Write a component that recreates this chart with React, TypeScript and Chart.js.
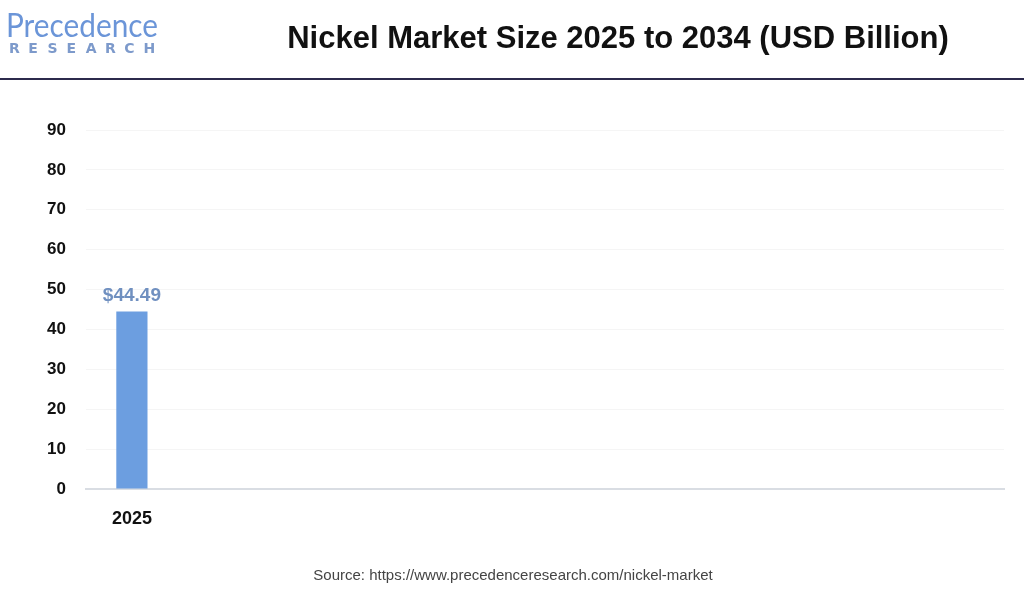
import React, { useEffect, useRef } from "react";
import { Chart, registerables } from "chart.js";

Chart.register(...registerables);

const title = "Nickel Market Size 2025 to 2034 (USD Billion)";
const sourceText = "Source: https://www.precedenceresearch.com/nickel-market";
const years = ["2025", "2026", "2027", "2028", "2029", "2030", "2031", "2032", "2033", "2034"];
const marketSize: (number | null)[] = [44.49, null, null, null, null, null, null, null, null, null];
const yMin = 0;
const yMax = 90;
const yStep = 10;

const decorPlugin = {
  id: "decor",
  afterDraw(chart: any) {
    const ctx = chart.ctx as CanvasRenderingContext2D;
    ctx.save();
    // logo
    ctx.fillStyle = "#6b95d8";
    ctx.font = "32px 'Lato', sans-serif";
    ctx.textAlign = "left";
    ctx.textBaseline = "alphabetic";
    ctx.fillText("Precedence", 6, 37, 152);
    ctx.fillStyle = "#7d9acb";
    ctx.font = "bold 14px 'DejaVu Sans', sans-serif";
    const letters = "RESEARCH".split("");
    letters.forEach((l, i) => {
      ctx.fillText(l, 9 + i * 19.2, 53);
    });
    // title
    ctx.fillStyle = "#111111";
    ctx.font = "bold 31px 'Liberation Sans Narrow', 'Liberation Sans', sans-serif";
    ctx.textAlign = "center";
    ctx.fillText(title, 618, 48, 670);
    // header rule
    ctx.fillStyle = "#2c2a4c";
    ctx.fillRect(0, 78, 1024, 2);
    // source
    ctx.fillStyle = "#444444";
    ctx.font = "15px 'Liberation Sans', sans-serif";
    ctx.fillText(sourceText, 513, 580, 400);
    // value labels
    const meta = chart.getDatasetMeta(0);
    ctx.fillStyle = "#7090c0";
    ctx.font = "bold 19px 'Liberation Sans', sans-serif";
    meta.data.forEach((bar: any, i: number) => {
      const v = marketSize[i];
      if (v == null) return;
      ctx.fillText("$" + v.toFixed(2), bar.x, bar.y - 11);
    });
    ctx.restore();
  },
};

export default function App() {
  const ref = useRef<HTMLCanvasElement>(null);
  useEffect(() => {
    document.body.style.margin = "0";
    const chart = new Chart(ref.current!, {
      type: "bar",
      data: {
        labels: years,
        datasets: [
          {
            data: marketSize,
            backgroundColor: "#6c9ee0",
            barPercentage: 0.34,
            categoryPercentage: 1,
          },
        ],
      },
      options: {
        animation: false,
        responsive: false,
        layout: { padding: { top: 130, right: 20, left: 0, bottom: 0 } },
        plugins: { legend: { display: false }, tooltip: { enabled: false }, title: { display: false } },
        scales: {
          x: {
            grid: { display: false, drawTicks: false },
            border: { color: "#d9dde3", width: 2 },
            ticks: {
              padding: 19,
              color: "#111111",
              font: { family: "'Liberation Sans', sans-serif", size: 18, weight: "bold" },
              callback: (_v: any, i: number) => (marketSize[i] == null ? "" : years[i]),
            },
            afterFit: (s: any) => {
              s.height = 100;
            },
          },
          y: {
            min: yMin,
            max: yMax,
            ticks: {
              stepSize: yStep,
              padding: 20,
              color: "#111111",
              font: { family: "'Liberation Sans', sans-serif", size: 17, weight: "bold" },
            },
            grid: { color: "#f5f5f5", drawTicks: false },
            border: { display: false },
            afterFit: (s: any) => {
              s.width = 86;
            },
          },
        },
      },
      plugins: [decorPlugin],
    });
    return () => chart.destroy();
  }, []);
  return (
    <div style={{ width: 1024, height: 589, background: "#fff" }}>
      <canvas ref={ref} width={1024} height={589} />
    </div>
  );
}
